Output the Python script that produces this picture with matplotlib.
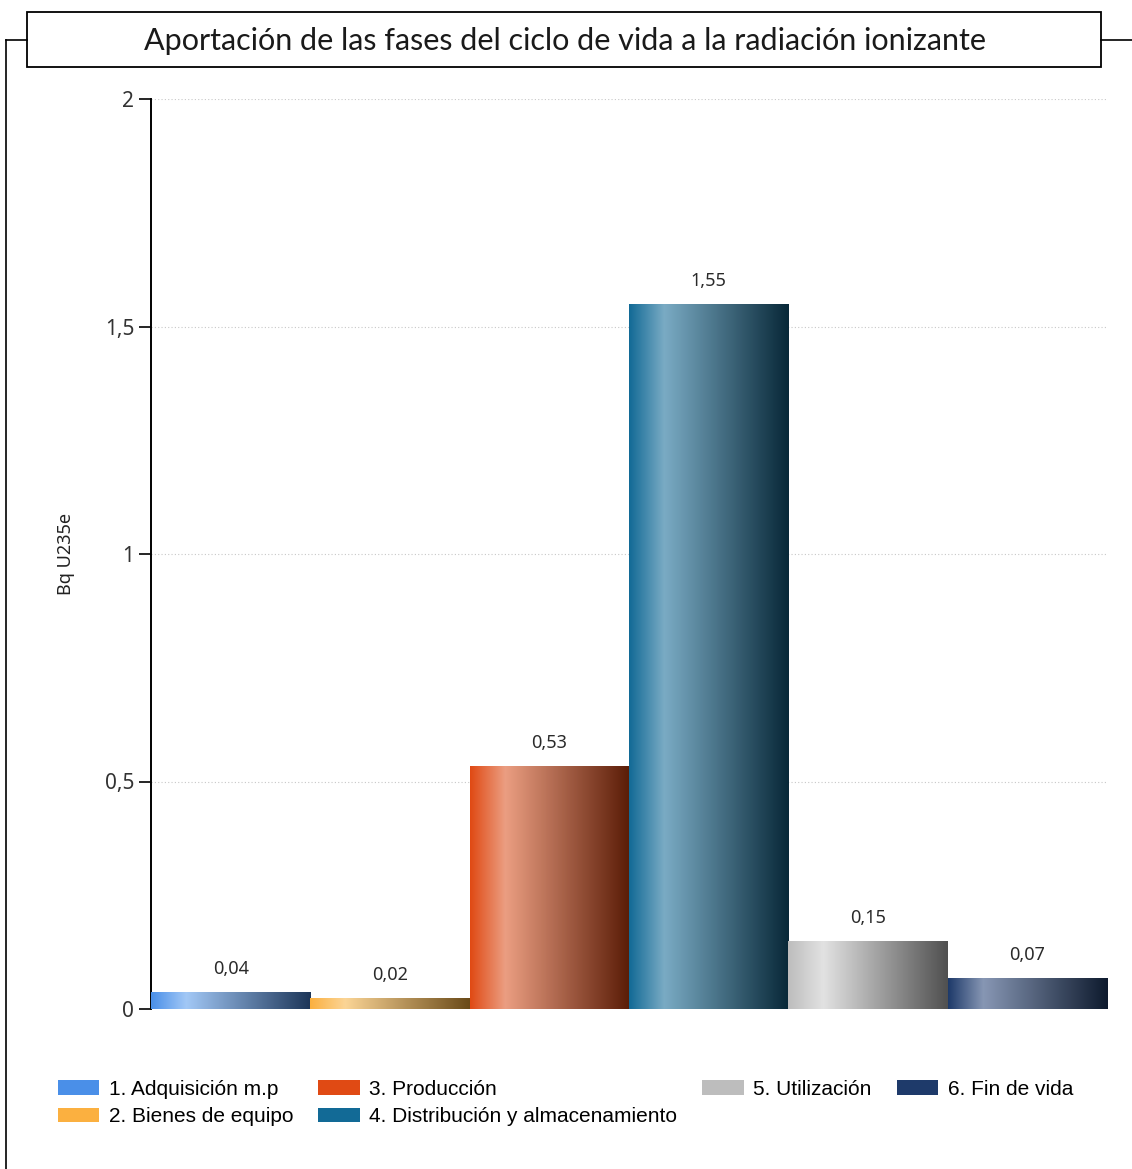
import numpy as np
import matplotlib
matplotlib.use("Agg")
import matplotlib.pyplot as plt
from matplotlib.lines import Line2D
from matplotlib.patches import Rectangle, Patch
from matplotlib.colors import to_rgb

W, H = 1132, 1169

fases = ["1. Adquisición m.p", "2. Bienes de equipo", "3. Producción",
         "4. Distribución y almacenamiento", "5. Utilización", "6. Fin de vida"]
valores = [0.036, 0.022, 0.532, 1.548, 0.148, 0.066]
yticks = [0, 0.5, 1, 1.5, 2]
ytick_labels = ["0", "0,5", "1", "1,5", "2"]

# base / highlight / shade colour for each bar gradient
base = ["#4a8fe8", "#fbb040", "#e04a14", "#126a96", "#bdbdbd", "#1e3a6a"]
light = ["#a2c8f6", "#fbd596", "#eb9e82", "#7aabc4", "#e2e2e2", "#8797b4"]
dark = ["#1c3558", "#6a4a18", "#5a1c06", "#082838", "#505050", "#0e1a2e"]

fig = plt.figure(figsize=(W / 100, H / 100), dpi=100, facecolor="white")
ax = fig.add_axes([151 / W, 1 - 1009 / H, (1107 - 151) / W, (1009 - 99) / H])

def gradiente(c0, c1, c2, n=200):
    t = np.linspace(0, 1, n)
    c0, c1, c2 = map(np.array, (to_rgb(c0), to_rgb(c1), to_rgb(c2)))
    out = np.zeros((1, n, 3))
    for i, v in enumerate(t):
        if v < 0.22:
            f = v / 0.22
            out[0, i] = c0 * (1 - f) + c1 * f
        else:
            f = (v - 0.22) / 0.78
            out[0, i] = c1 * (1 - f) + c2 * f
    return out

for i, v in enumerate(valores):
    ax.imshow(gradiente(base[i], light[i], dark[i]), extent=(i, i + 1, 0, v),
              aspect="auto", interpolation="bilinear", zorder=3)
    ax.text(i + 0.5, v + 0.033, f"{v:.2f}".replace(".", ","), ha="center",
            va="bottom", fontsize=13, color="#2a2a2a", family="Noto Sans")

ax.set_xlim(0, 6)
ax.set_ylim(0, 2)
ax.set_yticks(yticks)
ax.set_yticklabels(ytick_labels, fontsize=15, color="#333333", family="Noto Sans")
ax.set_xticks([])
ax.tick_params(axis="y", length=9, width=1.2, color="black", pad=3)
ax.grid(axis="y", linestyle=(0, (1, 2)), linewidth=0.8, color="#c8c8c8", zorder=0)
for s in ["top", "right", "bottom"]:
    ax.spines[s].set_visible(False)
ax.spines["left"].set_linewidth(1.4)
fig.text(66 / W, 1 - 554 / H, "Bq U235e", rotation=90, ha="center", va="center",
         fontsize=13, color="#222222", family="Noto Sans")

handles = [Patch(facecolor=c, edgecolor="none") for c in base]
fig.legend(handles, fases, ncol=4, loc="upper left",
           bbox_to_anchor=(41 / W, 1 - 1063 / H), frameon=False,
           handlelength=2.0, handleheight=0.7,
           handletextpad=0.45, columnspacing=1.2, labelspacing=0.42,
           borderpad=0.3, prop={"family": "Liberation Sans", "size": 15})

# title box and bracket lines
fig.add_artist(Rectangle((27 / W, 1 - 67 / H), (1101 - 27) / W, 55 / H,
                         transform=fig.transFigure, facecolor="white",
                         edgecolor="black", linewidth=1.3))
fig.add_artist(Line2D([6 / W, 27 / W], [1 - 40 / H] * 2, color="black", lw=1.2,
                      transform=fig.transFigure))
fig.add_artist(Line2D([6 / W, 6 / W], [1 - 40 / H, 0], color="black", lw=1.2,
                      transform=fig.transFigure))
fig.add_artist(Line2D([1101 / W, 1], [1 - 40 / H] * 2, color="black", lw=1.2,
                      transform=fig.transFigure))
fig.text(565 / W, 1 - 41 / H, "Aportación de las fases del ciclo de vida a la radiación ionizante",
         ha="center", va="center", fontsize=22, family="Lato", color="#1a1a1a")

fig.savefig("out.png", dpi=100)
